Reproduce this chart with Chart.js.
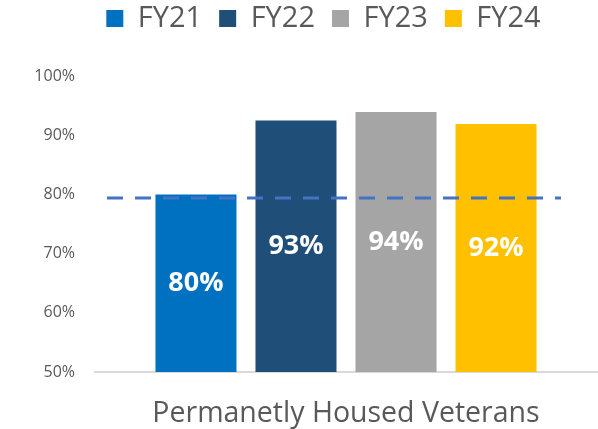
<!DOCTYPE html>
<html>
<head>
<meta charset="utf-8">
<script src="https://cdn.jsdelivr.net/npm/chart.js@4.4.1/dist/chart.umd.min.js"></script>
<style>
  html, body { margin: 0; padding: 0; background: #ffffff; }
  #wrap { width: 598px; height: 429px; position: relative; }
</style>
</head>
<body>
<div id="wrap"><canvas id="c" width="598" height="429"></canvas></div>
<script>
const categories = ['Permanetly Housed Veterans'];
const seriesNames = ['FY21', 'FY22', 'FY23', 'FY24'];
const seriesValues = [[80.0], [92.5], [93.9], [91.9]];
const seriesColors = ['#0070C0', '#1F4E79', '#A5A5A5', '#FFC000'];
const targetValue = 79.4;
const yTicks = [50, 60, 70, 80, 90, 100];

const FONT = "'Open Sans', 'Liberation Sans', sans-serif";
const TEXT_COLOR = '#595959';

const barLabelPlugin = {
  id: 'barLabels',
  afterDatasetsDraw(chart) {
    const ctx = chart.ctx;
    const yScale = chart.scales.y;
    ctx.save();
    ctx.fillStyle = '#ffffff';
    ctx.font = 'bold 27px ' + FONT;
    ctx.textAlign = 'center';
    ctx.textBaseline = 'middle';
    chart.data.datasets.forEach((ds, i) => {
      const meta = chart.getDatasetMeta(i);
      meta.data.forEach((bar, j) => {
        const v = ds.data[j];
        const p = bar.getProps(['x'], true);
        const top = yScale.getPixelForValue(v);
        const bottom = yScale.getPixelForValue(yScale.min);
        ctx.fillText(Math.round(v) + '%', p.x, (top + bottom) / 2);
      });
    });
    ctx.restore();
  }
};

const targetLinePlugin = {
  id: 'targetLine',
  afterDatasetsDraw(chart) {
    const ctx = chart.ctx;
    const area = chart.chartArea;
    const y = chart.scales.y.getPixelForValue(targetValue);
    ctx.save();
    ctx.strokeStyle = '#4472C4';
    ctx.lineWidth = 3;
    ctx.setLineDash([16, 12]);
    ctx.beginPath();
    ctx.moveTo(area.left + 12, y);
    ctx.lineTo(area.right - 36, y);
    ctx.stroke();
    ctx.restore();
  }
};

const legendAdjustPlugin = {
  id: 'legendAdjust',
  beforeInit(chart) {
    const lg = chart.legend;
    if (!lg) return;
    const origFit = lg.fit;
    lg.fit = function () {
      origFit.call(this);
      this.height += 33;
    };
  },
  afterLayout(chart) {
    const lg = chart.legend;
    if (!lg) return;
    lg.left += 10;
    lg.right += 10;
  }
};

new Chart(document.getElementById('c'), {
  type: 'bar',
  data: {
    labels: categories,
    datasets: seriesNames.map((name, i) => ({
      label: name,
      data: seriesValues[i],
      backgroundColor: seriesColors[i],
      borderWidth: 0,
      categoryPercentage: 0.797,
      barPercentage: 0.81
    }))
  },
  options: {
    responsive: false,
    animation: false,
    devicePixelRatio: 1,
    layout: { padding: { left: 30, right: 1, top: -13, bottom: 0 } },
    plugins: {
      tooltip: { enabled: false },
      legend: {
        position: 'top',
        labels: {
          boxWidth: 17,
          boxHeight: 17,
          padding: 17,
          color: TEXT_COLOR,
          font: { family: FONT, size: 29 }
        }
      }
    },
    scales: {
      x: {
        afterFit(scale) { scale.height = 57; },
        grid: { display: false, drawTicks: false },
        border: { display: true, color: '#D9D9D9', width: 2 },
        ticks: {
          color: TEXT_COLOR,
          padding: 25,
          font: { family: FONT, size: 28.5 }
        }
      },
      y: {
        min: 50,
        max: 100,
        afterFit(scale) { scale.width = 65; },
        afterBuildTicks(scale) { scale.ticks = yTicks.map(v => ({ value: v })); },
        grid: { display: false, drawTicks: false },
        border: { display: false },
        ticks: {
          color: TEXT_COLOR,
          padding: 20,
          font: { family: FONT, size: 16 },
          callback: v => v + '%'
        }
      }
    }
  },
  plugins: [legendAdjustPlugin, targetLinePlugin, barLabelPlugin]
});
</script>
</body>
</html>
